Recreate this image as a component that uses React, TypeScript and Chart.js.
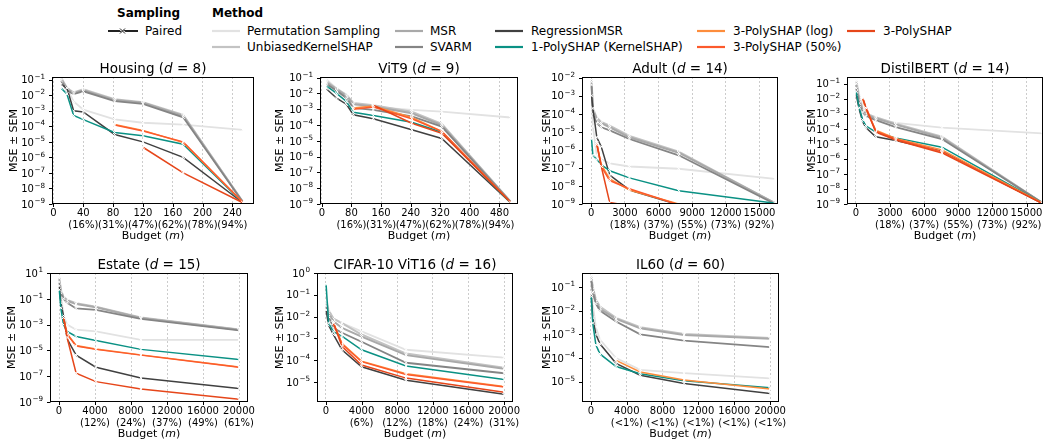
import React, { useEffect, useRef } from "react";
import { Chart, registerables } from "chart.js";
Chart.register(...registerables);

const FONT = "'DejaVu Sans', 'Liberation Sans', sans-serif";

// ---------- series ----------
const SERIES_LABELS = [
  "Permutation Sampling",
  "UnbiasedKernelSHAP",
  "MSR",
  "SVARM",
  "RegressionMSR",
  "1-PolySHAP (KernelSHAP)",
  "3-PolySHAP (log)",
  "3-PolySHAP (50%)",
  "3-PolySHAP",
];
const SERIES_COLORS = ["#e2e2e2", "#c3c3c3", "#a9a9a9", "#858585", "#404040", "#0a9184", "#fd8d3c", "#fc5a2c", "#e6461a"];
const SERIES_WIDTHS = [1.8, 2, 2, 1.8, 1.5, 1.5, 1.5, 1.5, 1.5];

// ---------- Housing (d = 8) ----------
const housingX = [10, 18, 27, 40, 82, 120, 174, 254];
const housingPerm = [0.1, 0.03, 4e-3, 1.2e-3, 2.8e-4, 1.7e-4, 1.3e-4, 6e-5];
const housingUnbiased = [0.14, 0.03, 0.015, 0.024, 5.5e-3, 3.6e-3, 5.5e-4, 1.4e-9];
const housingMSR = [0.12, 0.025, 0.014, 0.021, 5e-3, 3.3e-3, 4.8e-4, 1.4e-9];
const housingSVARM = [0.09, 0.02, 0.012, 0.018, 4.2e-3, 2.8e-3, 3.8e-4, 1.3e-9];
const housingReg = [0.05, 0.03, 1e-3, 8.5e-4, 3e-5, 1e-5, 1e-6, 1.2e-9];
const housingPoly1 = [0.03, 0.012, 5e-4, 2.7e-4, 4e-5, 2.5e-5, 7e-6, 1.2e-9];
const housingPolyLog = [null, null, null, null, 1.3e-4, 5.5e-5, 9e-6, 1.3e-9];
const housingPoly50 = [null, null, null, null, 1.2e-4, 5e-5, 1e-5, 1.3e-9];
const housingPoly3 = [null, null, null, null, null, 4.5e-6, 1e-7, 1.2e-9];
const housingXTicks = [0, 40, 80, 120, 160, 200, 240];
const housingPct = ["", "(16%)", "(31%)", "(47%)", "(62%)", "(78%)", "(94%)"];
const housingYExp = [-9, -8, -7, -6, -5, -4, -3, -2, -1];

// ---------- ViT9 (d = 9) ----------
const vit9X = [12, 40, 67, 85, 139, 243, 324, 510];
const vit9Perm = [0.08, 0.02, 5e-3, 1.8e-3, 1.4e-3, 9e-4, 7e-4, 3e-4];
const vit9Unbiased = [0.06, 0.02, 8e-3, 2.5e-3, 1.8e-3, 7e-4, 1.2e-4, 1.4e-9];
const vit9MSR = [0.05, 0.018, 7e-3, 2.1e-3, 1.5e-3, 5.5e-4, 1e-4, 1.4e-9];
const vit9SVARM = [0.04, 0.015, 5e-3, 1.2e-3, 9e-4, 3.5e-4, 8e-5, 1.3e-9];
const vit9Reg = [0.02, 5e-3, 2e-3, 4.5e-4, 2.5e-4, 5e-5, 1.4e-5, 1.2e-9];
const vit9Poly1 = [0.03, 0.01, 3e-3, 6.5e-4, 4e-4, 1.5e-4, 3.5e-5, 1.2e-9];
const vit9PolyLog = [null, null, null, 1.2e-3, 1.6e-3, 3e-4, 4e-5, 1.3e-9];
const vit9Poly50 = [null, null, null, 1e-3, 1.4e-3, 2.5e-4, 4e-5, 1.3e-9];
const vit9Poly3 = [null, null, null, null, 1.8e-3, 1.3e-4, 3e-5, 1.3e-9];
const vit9XTicks = [0, 80, 160, 240, 320, 400, 480];
const vit9Pct = ["", "(16%)", "(31%)", "(47%)", "(62%)", "(78%)", "(94%)"];
const vit9YExp = [-9, -8, -7, -6, -5, -4, -3, -2, -1];

// ---------- Adult (d = 14) ----------
const adultX = [30, 150, 500, 900, 1650, 3400, 7800, 16384];
const adultPerm = [3e-3, 2e-5, 5e-7, 3e-7, 1.8e-7, 1.2e-7, 9e-8, 2.5e-8];
const adultUnbiased = [8e-3, 2e-4, 6e-5, 3.5e-5, 2.2e-5, 6e-6, 8e-7, 1.1e-9];
const adultMSR = [6e-3, 1.6e-4, 5e-5, 3e-5, 1.8e-5, 5e-6, 7e-7, 1.1e-9];
const adultSVARM = [4e-3, 1e-4, 3e-5, 1.8e-5, 1.2e-5, 4e-6, 5e-7, 1e-9];
const adultReg = [1e-3, 2e-4, 5e-6, 1.5e-6, 4e-8, 6e-9, 9e-10, 6e-10];
const adultPoly1 = [4e-6, 5e-7, 3e-7, 1.5e-7, 7e-8, 2.8e-8, 5.5e-9, 1.1e-9];
const adultPolyLog = [null, null, 2e-6, 1.5e-7, 2.5e-8, 6e-9, 1e-9, 5e-10];
const adultPoly50 = [null, null, 2.5e-6, 1.2e-7, 2e-8, 7e-9, 9e-10, 5e-10];
const adultPoly3 = [null, null, 2e-6, 1.2e-7, 1.2e-9, 8e-10, 5e-10, 4e-10];
const adultXTicks = [0, 3000, 6000, 9000, 12000, 15000];
const adultPct = ["", "(18%)", "(37%)", "(55%)", "(73%)", "(92%)"];
const adultYExp = [-9, -8, -7, -6, -5, -4, -3, -2];

// ---------- DistilBERT (d = 14) ----------
const distilX = [30, 290, 600, 873, 1750, 3500, 7566, 16384];
const distilPerm = [0.2, 2e-2, 3e-3, 1.2e-3, 5e-4, 2.5e-4, 1.2e-4, 5e-5];
const distilUnbiased = [0.15, 1e-2, 2e-3, 1e-3, 6e-4, 2.2e-4, 3e-5, 1.2e-9];
const distilMSR = [0.1, 8e-3, 1.8e-3, 9e-4, 5e-4, 1.9e-4, 2.6e-5, 1.2e-9];
const distilSVARM = [0.05, 5e-3, 1.3e-3, 7e-4, 3.8e-4, 1.3e-4, 2.1e-5, 1.2e-9];
const distilReg = [0.02, 2e-3, 3e-4, 1.2e-4, 3e-5, 1.7e-5, 3.3e-6, 1.1e-9];
const distilPoly1 = [0.03, 2.5e-3, 4e-4, 1.6e-4, 6e-5, 2.5e-5, 6e-6, 1.2e-9];
const distilPolyLog = [null, null, 1e-2, 2e-3, 8e-5, 2.3e-5, 4e-6, 1.2e-9];
const distilPoly50 = [null, null, 1.2e-2, 3e-3, 7e-5, 2.1e-5, 3e-6, 1.1e-9];
const distilPoly3 = [null, null, 1.1e-2, 2.5e-3, 6e-5, 1.8e-5, 2.5e-6, 1.1e-9];
const distilXTicks = [0, 3000, 6000, 9000, 12000, 15000];
const distilPct = ["", "(18%)", "(37%)", "(55%)", "(73%)", "(92%)"];
const distilYExp = [-9, -8, -7, -6, -5, -4, -3, -2, -1];

// ---------- Estate (d = 15) ----------
const estateX = [30, 200, 500, 900, 1900, 4100, 9100, 20000];
const estatePerm = [3, 0.3, 5e-3, 1e-3, 4e-4, 3e-4, 6.5e-5, 6.5e-5];
const estateUnbiased = [5, 0.5, 0.15, 0.08, 4.5e-2, 2.4e-2, 3.6e-3, 4.2e-4];
const estateMSR = [4, 0.4, 0.12, 0.07, 4e-2, 2.2e-2, 3.3e-3, 4e-4];
const estateSVARM = [2, 0.3, 0.1, 0.05, 1.8e-2, 1.4e-2, 2.8e-3, 3.6e-4];
const estateReg = [1, 0.05, 5e-3, 8e-5, 4.3e-6, 5e-7, 7.4e-8, 1.1e-8];
const estatePoly1 = [0.5, 2e-2, 1e-3, 3e-4, 1.2e-4, 5.8e-5, 1.2e-5, 2e-6];
const estatePolyLog = [null, null, 3.5e-3, 2e-4, 2.4e-5, 1.3e-5, 4.5e-6, 5.2e-7];
const estatePoly50 = [null, null, 3.5e-3, 1.8e-4, 2.2e-5, 1.2e-5, 4.3e-6, 5e-7];
const estatePoly3 = [null, null, 3.5e-3, 1e-4, 1.7e-7, 3.8e-8, 1e-8, 1.6e-9];
const estateXTicks = [0, 4000, 8000, 12000, 16000, 20000];
const estatePct = ["", "(12%)", "(24%)", "(37%)", "(49%)", "(61%)"];
const estateYExp = [-9, -7, -5, -3, -1, 1];

// ---------- CIFAR-10 ViT16 (d = 16) ----------
const cifarX = [20, 300, 850, 1800, 4000, 9000, 20000];
const cifarPerm = [0.1, 0.02, 8e-3, 5e-3, 2.1e-3, 3e-4, 1.3e-4];
const cifarUnbiased = [0.05, 0.02, 8e-3, 5e-3, 1.5e-3, 2e-4, 4.5e-5];
const cifarMSR = [0.04, 0.015, 6e-3, 3e-3, 1.2e-3, 1.7e-4, 4e-5];
const cifarSVARM = [0.03, 0.01, 3e-3, 1.8e-3, 7e-4, 7.6e-5, 2.5e-5];
const cifarReg = [0.02, 4e-3, 1.5e-3, 3e-4, 5e-5, 1.2e-5, 2.7e-6];
const cifarPoly1 = [0.3, 5e-3, 2e-3, 1.25e-3, 3e-4, 5.4e-5, 1.3e-5];
const cifarPolyLog = [null, null, 5e-3, 6e-4, 9e-5, 2.4e-5, 6.2e-6];
const cifarPoly50 = [null, null, 5e-3, 5.5e-4, 8.5e-5, 2.2e-5, 5.9e-6];
const cifarPoly3 = [null, null, 5e-3, 4.3e-4, 6e-5, 1.5e-5, 3.4e-6];
const cifarXTicks = [0, 4000, 8000, 12000, 16000, 20000];
const cifarPct = ["", "(6%)", "(12%)", "(18%)", "(24%)", "(31%)"];
const cifarYExp = [-5, -4, -3, -2, -1, 0];

// ---------- IL60 (d = 60) ----------
const il60X = [30, 200, 550, 1000, 2800, 5500, 10400, 20000];
const il60Perm = [0.15, 0.02, 2e-3, 6e-4, 1e-4, 3.2e-5, 2.3e-5, 1.4e-5];
const il60Unbiased = [0.3, 0.1, 0.03, 0.015, 5e-3, 2e-3, 1.05e-3, 7e-4];
const il60MSR = [0.25, 0.08, 0.025, 0.012, 4.5e-3, 1.8e-3, 9.5e-4, 6.5e-4];
const il60SVARM = [0.2, 0.06, 0.02, 0.01, 3.5e-3, 1e-3, 5.5e-4, 2.9e-4];
const il60Reg = [0.05, 5e-3, 1e-3, 4e-4, 6e-5, 1.9e-5, 8.5e-6, 3.2e-6];
const il60Poly1 = [0.04, 3e-3, 3.6e-4, 1.5e-4, 4.4e-5, 2.2e-5, 1.1e-5, 5.6e-6];
const il60PolyLog = [null, null, null, null, 8e-5, 2.6e-5, 1.2e-5, 5e-6];
const il60Poly50 = [null, null, null, null, null, null, null, null];
const il60Poly3 = [null, null, null, null, null, null, null, null];
const il60XTicks = [0, 4000, 8000, 12000, 16000, 20000];
const il60Pct = ["", "(<1%)", "(<1%)", "(<1%)", "(<1%)", "(<1%)"];
const il60YExp = [-5, -4, -3, -2, -1];

type Plot = {
  name: string;
  d: number;
  box: number[]; // left, top, right, bottom of axes frame
  yw: number;
  x: number[];
  ys: (number | null)[][];
  xMin: number;
  xMax: number;
  xTicks: number[];
  pct: string[];
  yMin: number;
  yMax: number;
  yExp: number[];
};

const PLOTS: Plot[] = [
  {
    name: "Housing", d: 8, box: [52, 77, 254, 204], yw: 44,
    x: housingX,
    ys: [housingPerm, housingUnbiased, housingMSR, housingSVARM, housingReg, housingPoly1, housingPolyLog, housingPoly50, housingPoly3],
    xMin: -2, xMax: 269, xTicks: housingXTicks, pct: housingPct, yMin: 1e-9, yMax: 0.15, yExp: housingYExp,
  },
  {
    name: "ViT9", d: 9, box: [320, 77, 518, 204], yw: 46,
    x: vit9X,
    ys: [vit9Perm, vit9Unbiased, vit9MSR, vit9SVARM, vit9Reg, vit9Poly1, vit9PolyLog, vit9Poly50, vit9Poly3],
    xMin: -5, xMax: 530, xTicks: vit9XTicks, pct: vit9Pct, yMin: 1e-9, yMax: 0.11, yExp: vit9YExp,
  },
  {
    name: "Adult", d: 14, box: [582, 77, 778, 204], yw: 41,
    x: adultX,
    ys: [adultPerm, adultUnbiased, adultMSR, adultSVARM, adultReg, adultPoly1, adultPolyLog, adultPoly50, adultPoly3],
    xMin: -820, xMax: 16650, xTicks: adultXTicks, pct: adultPct, yMin: 1e-9, yMax: 1.1e-2, yExp: adultYExp,
  },
  {
    name: "DistilBERT", d: 14, box: [847, 77, 1043, 204], yw: 41,
    x: distilX,
    ys: [distilPerm, distilUnbiased, distilMSR, distilSVARM, distilReg, distilPoly1, distilPolyLog, distilPoly50, distilPoly3],
    xMin: -780, xMax: 16450, xTicks: distilXTicks, pct: distilPct, yMin: 1e-9, yMax: 0.28, yExp: distilYExp,
  },
  {
    name: "Estate", d: 15, box: [50, 273, 248, 402], yw: 44,
    x: estateX,
    ys: [estatePerm, estateUnbiased, estateMSR, estateSVARM, estateReg, estatePoly1, estatePolyLog, estatePoly50, estatePoly3],
    xMin: -1000, xMax: 21000, xTicks: estateXTicks, pct: estatePct, yMin: 1e-9, yMax: 10, yExp: estateYExp,
  },
  {
    name: "CIFAR-10 ViT16", d: 16, box: [317, 273, 513, 402], yw: 43,
    x: cifarX,
    ys: [cifarPerm, cifarUnbiased, cifarMSR, cifarSVARM, cifarReg, cifarPoly1, cifarPolyLog, cifarPoly50, cifarPoly3],
    xMin: -1000, xMax: 21000, xTicks: cifarXTicks, pct: cifarPct, yMin: 1.2e-6, yMax: 1, yExp: cifarYExp,
  },
  {
    name: "IL60", d: 60, box: [582, 273, 779, 402], yw: 41,
    x: il60X,
    ys: [il60Perm, il60Unbiased, il60MSR, il60SVARM, il60Reg, il60Poly1, il60PolyLog, il60Poly50, il60Poly3],
    xMin: -1000, xMax: 21000, xTicks: il60XTicks, pct: il60Pct, yMin: 1.4e-6, yMax: 0.39, yExp: il60YExp,
  },
];

// y tick labels drawn as "10" with a raised, smaller exponent (like matplotlib mathtext)
const expText = (e: number) => (e < 0 ? "\u2212" + String(-e) : String(e));

const framePlugin = {
  id: "frame",
  afterDraw(chart: any) {
    const { ctx, chartArea: a, scales } = chart;
    const p: Plot = chart.options.plugins.frame.plot;
    ctx.save();
    ctx.strokeStyle = "#000";
    ctx.lineWidth = 1;
    const l = Math.round(a.left) + 0.5, t = Math.round(a.top) + 0.5;
    const r = Math.round(a.right) - 0.5, b = Math.round(a.bottom) - 0.5;
    ctx.strokeRect(l, t, r - l, b - t);
    ctx.beginPath();
    scales.x.ticks.forEach((tk: any) => {
      const px = Math.round(scales.x.getPixelForValue(tk.value)) + 0.5;
      ctx.moveTo(px, b);
      ctx.lineTo(px, b + 3.5);
    });
    scales.y.ticks.forEach((tk: any) => {
      const py = Math.round(scales.y.getPixelForValue(tk.value)) + 0.5;
      ctx.moveTo(l, py);
      ctx.lineTo(l - 3.5, py);
    });
    ctx.stroke();
    // y tick labels
    ctx.fillStyle = "#000";
    ctx.textBaseline = "alphabetic";
    ctx.textAlign = "left";
    p.yExp.forEach((e) => {
      const py = scales.y.getPixelForValue(Math.pow(10, e));
      const baseFont = `10px ${FONT}`;
      const supFont = `7.2px ${FONT}`;
      ctx.font = supFont;
      const es = expText(e);
      const we = ctx.measureText(es).width;
      ctx.font = baseFont;
      const wb = ctx.measureText("10").width;
      const right = a.left - 7;
      const baseY = py + 3.7;
      ctx.fillText("10", right - we - wb - 0.5, baseY);
      ctx.font = supFont;
      ctx.fillText(es, right - we, baseY - 4.6);
    });
    ctx.restore();
  },
};

const PAD_T = 10;
const PAD_R = 34;
const XH = 34;

function Subplot({ p }: { p: Plot }) {
  const ref = useRef<HTMLCanvasElement>(null);
  const bw = p.box[2] - p.box[0];
  const bh = p.box[3] - p.box[1];
  const W = p.yw + bw + PAD_R;
  const H = PAD_T + bh + XH;
  useEffect(() => {
    if (!ref.current) return;
    const datasets = p.ys
      .map((ys, i) => ({
        label: SERIES_LABELS[i],
        data: p.x.map((x, j) => ({ x, y: ys[j] })).filter((pt) => pt.y != null),
        borderColor: SERIES_COLORS[i],
        backgroundColor: SERIES_COLORS[i],
        borderWidth: SERIES_WIDTHS[i],
        pointStyle: "crossRot",
        pointRadius: 2.2,
        pointBorderColor: "#ffffff",
        pointBackgroundColor: "#ffffff",
        pointBorderWidth: 1,
        tension: 0,
        spanGaps: true,
        order: 20 - i,
      }))
      .filter((ds) => ds.data.length > 0);
    const chart = new Chart(ref.current, {
      type: "line",
      data: { datasets } as any,
      options: {
        animation: false,
        responsive: false,
        maintainAspectRatio: false,
        events: [],
        layout: { padding: { left: 0, top: PAD_T, right: PAD_R, bottom: 0 } },
        plugins: {
          legend: { display: false },
          tooltip: { enabled: false },
          title: { display: false },
          frame: { plot: p },
        },
        scales: {
          x: {
            type: "linear",
            min: p.xMin,
            max: p.xMax,
            afterBuildTicks: (s: any) => {
              s.ticks = p.xTicks.map((v) => ({ value: v }));
            },
            afterFit: (s: any) => {
              s.height = XH;
              s.paddingLeft = 0;
              s.paddingRight = 0;
            },
            grid: { display: true, drawTicks: false, color: "rgba(170,170,170,0.75)", lineWidth: 0.8 },
            border: { display: false, dash: [2, 2] },
            ticks: {
              color: "#000",
              font: { family: FONT, size: 10 },
              padding: 3,
              maxRotation: 0,
              minRotation: 0,
              autoSkip: false,
              callback: (_v: any, i: number) => (p.pct[i] ? [String(p.xTicks[i]), p.pct[i]] : String(p.xTicks[i])),
            },
          },
          y: {
            type: "logarithmic",
            min: p.yMin,
            max: p.yMax,
            afterBuildTicks: (s: any) => {
              s.ticks = p.yExp.map((e) => ({ value: Math.pow(10, e) }));
            },
            afterFit: (s: any) => {
              s.width = p.yw;
              s.paddingTop = 0;
              s.paddingBottom = 0;
            },
            grid: { display: false, drawTicks: false },
            border: { display: false },
            ticks: {
              color: "#000",
              font: { family: FONT, size: 10 },
              padding: 7,
              autoSkip: false,
              callback: () => "",
            },
            title: {
              display: true,
              text: "MSE ± SEM",
              color: "#000",
              font: { family: FONT, size: 11 },
              padding: 0,
            },
          },
        },
      } as any,
      plugins: [framePlugin],
    });
    return () => chart.destroy();
  }, [p]);
  return (
    <canvas
      ref={ref}
      width={W}
      height={H}
      style={{ position: "absolute", left: p.box[0] - p.yw, top: p.box[1] - PAD_T, width: W, height: H }}
    />
  );
}

function Texts({ p }: { p: Plot }) {
  const cx = (p.box[0] + p.box[2]) / 2;
  return (
    <>
      <div
        style={{
          position: "absolute", left: cx, top: p.box[1] - 8, transform: "translate(-50%, -50%)",
          fontSize: 13.5, whiteSpace: "nowrap", lineHeight: 1, color: "#000",
        }}
      >
        {p.name} (<i>d</i> = {p.d})
      </div>
      <div
        style={{
          position: "absolute", left: cx, top: p.box[3] + 31, transform: "translate(-50%, -50%)",
          fontSize: 11, whiteSpace: "nowrap", lineHeight: 1, color: "#000",
        }}
      >
        Budget (<i>m</i>)
      </div>
    </>
  );
}

// legend layout (index into SERIES_*): [series, lineX, textX, rowY]
const LEGEND_ITEMS: number[][] = [
  [0, 212, 247, 31],
  [2, 395, 430, 31],
  [4, 495, 531, 31],
  [6, 697, 733, 31],
  [8, 847, 883, 31],
  [1, 212, 247, 47],
  [3, 395, 430, 47],
  [5, 495, 531, 47],
  [7, 697, 733, 47],
];

function Legend() {
  const txt = (left: number, top: number, s: string, bold = false) => (
    <div
      style={{
        position: "absolute", left, top, transform: "translateY(-50%)", fontSize: 12,
        fontWeight: bold ? "bold" : "normal", whiteSpace: "nowrap", lineHeight: 1, color: "#000",
      }}
    >
      {s}
    </div>
  );
  return (
    <>
      {txt(117, 13, "Sampling", true)}
      {txt(212, 13, "Method", true)}
      <svg style={{ position: "absolute", left: 108, top: 26 }} width={30} height={10}>
        <line x1={0} y1={5} x2={30} y2={5} stroke="#222" strokeWidth={2} />
        <line x1={12} y1={2.5} x2={17} y2={7.5} stroke="#fff" strokeWidth={2.5} />
        <line x1={12} y1={2.5} x2={17} y2={7.5} stroke="#222" strokeWidth={1} />
        <line x1={17} y1={2.5} x2={12} y2={7.5} stroke="#222" strokeWidth={1} />
      </svg>
      {txt(145, 31, "Paired")}
      {LEGEND_ITEMS.map(([si, lx, tx, y]) => (
        <React.Fragment key={si}>
          <svg style={{ position: "absolute", left: lx, top: y - 3 }} width={28} height={6}>
            <line x1={0} y1={3} x2={28} y2={3} stroke={SERIES_COLORS[si]} strokeWidth={2.2} />
          </svg>
          {txt(tx, y, SERIES_LABELS[si])}
        </React.Fragment>
      ))}
    </>
  );
}

export default function App() {
  return (
    <div
      style={{
        position: "fixed", left: 0, top: 0, width: 1045, height: 440, background: "#fff",
        fontFamily: FONT, overflow: "hidden",
      }}
    >
      <Legend />
      {PLOTS.map((p) => (
        <React.Fragment key={p.name}>
          <Subplot p={p} />
          <Texts p={p} />
        </React.Fragment>
      ))}
    </div>
  );
}
